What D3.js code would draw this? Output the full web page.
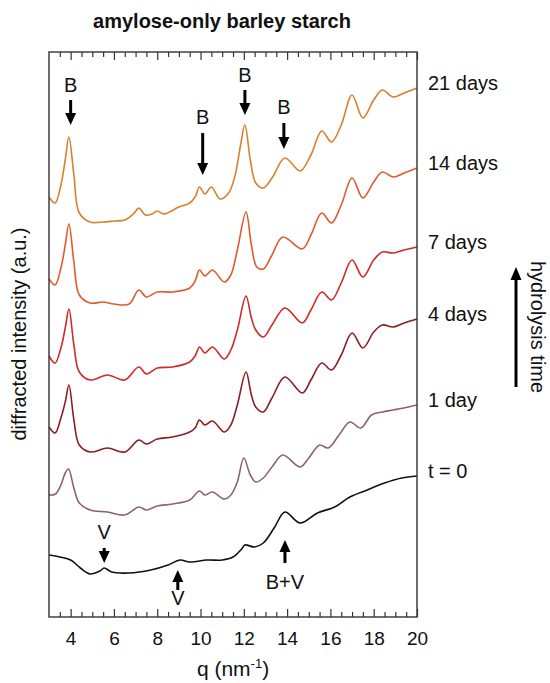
<!DOCTYPE html>
<html>
<head>
<meta charset="utf-8">
<script src="https://cdn.jsdelivr.net/npm/d3@7"></script>
<style>
  body { margin: 0; background: #fff; }
  svg { font-family: "Liberation Sans", Arial, sans-serif; }
</style>
</head>
<body>
<div class="container"></div>
<script>
// diffraction traces, [q (nm^-1), intensity (a.u., stacked)]
var day21 = [[3.0,420],[3.28,414],[3.55,432],[3.75,457],[3.92,480],[4.15,442],[4.4,404],[4.9,395],[5.5,395],[6.0,396],[6.5,397],[6.9,403],[7.15,409],[7.45,402],[7.75,403],[8.0,406],[8.3,403],[9.0,410],[9.5,414],[9.75,420],[9.95,430],[10.2,423],[10.5,430],[10.9,418],[11.3,424],[11.6,442],[11.85,472],[12.05,492],[12.3,457],[12.55,434],[12.9,429],[13.3,439],[13.9,459],[14.6,446],[15.1,462],[15.6,486],[16.05,475],[16.5,492],[17.0,522],[17.5,499],[18.0,517],[18.4,527],[18.9,520],[19.4,524],[20.0,529]];
var day14 = [[3.0,338],[3.28,332],[3.55,349],[3.75,372],[3.92,393],[4.15,355],[4.4,322],[4.9,314],[5.5,315],[6.0,313],[6.7,313],[7.15,327],[7.5,320],[8.0,325],[8.7,325],[9.5,329],[9.75,336],[9.95,347],[10.2,341],[10.55,347],[11.1,335],[11.4,342],[11.7,367],[12.1,405],[12.35,372],[12.6,350],[12.9,348],[13.3,362],[13.8,380],[14.7,368],[15.1,382],[15.6,404],[16.05,394],[16.5,412],[17.0,439],[17.5,419],[18.0,435],[18.4,445],[18.9,440],[19.4,444],[20.0,449]];
var day7 = [[3.0,261],[3.28,254],[3.55,269],[3.75,289],[3.92,308],[4.15,272],[4.4,245],[4.9,237],[5.7,242],[6.5,237],[7.15,250],[7.5,243],[8.0,249],[8.7,250],[9.5,255],[9.75,261],[9.95,270],[10.2,264],[10.55,270],[11.1,258],[11.4,267],[11.7,287],[12.1,321],[12.35,299],[12.55,287],[12.9,280],[13.3,292],[13.9,309],[14.7,294],[15.1,307],[15.6,325],[16.05,317],[16.5,334],[17.0,357],[17.5,340],[18.0,357],[18.4,365],[18.9,364],[19.4,367],[20.0,370]];
var day4 = [[3.0,190],[3.28,184],[3.55,199],[3.75,215],[3.92,232],[4.15,197],[4.4,172],[4.9,165],[5.7,169],[6.5,165],[7.15,177],[7.5,173],[8.0,178],[8.7,180],[9.5,185],[9.75,189],[9.95,197],[10.2,192],[10.55,196],[11.1,185],[11.4,192],[11.7,212],[12.1,245],[12.35,222],[12.55,210],[12.9,205],[13.3,219],[13.9,240],[14.7,224],[15.1,237],[15.6,254],[16.05,247],[16.5,262],[17.0,284],[17.5,269],[18.0,285],[18.4,292],[18.9,290],[19.4,294],[20.0,298]];
var day1 = [[3.0,122],[3.3,123],[3.55,132],[3.75,144],[3.9,148],[4.15,129],[4.4,114],[4.9,107],[5.7,105],[6.5,102],[7.15,110],[7.5,107],[8.0,111],[8.7,113],[9.5,117],[9.95,126],[10.2,122],[10.55,125],[11.1,118],[11.4,122],[11.7,135],[12.0,159],[12.3,142],[12.55,135],[12.9,139],[13.3,150],[13.8,162],[14.6,150],[15.0,159],[15.5,172],[15.9,169],[16.4,182],[16.9,195],[17.4,189],[17.9,202],[18.4,205],[18.9,207],[19.4,209],[20.0,212]];
var day0 = [[3.0,62],[3.5,60],[4.0,57],[4.45,49],[4.9,43],[5.35,46],[5.55,49],[5.9,45],[6.7,44],[7.7,47],[8.5,52],[9.05,57],[9.5,55],[10.3,57],[11.0,57],[11.5,60],[11.9,68],[12.05,72],[12.5,70],[12.9,74],[13.4,89],[13.9,105],[14.6,94],[15.4,104],[16.2,110],[16.9,120],[17.7,127],[18.5,134],[19.3,139],[20.0,141]];

var traces = [day21, day14, day7, day4, day1, day0];
var traceLabels = ["21 days", "14 days", "7 days", "4 days", "1 day", "t = 0"];
var traceColors = ["#d8812c", "#e05a2b", "#d02a24", "#8e1c20", "#8c6565", "#111111"];

var majorTicks = [4, 6, 8, 10, 12, 14, 16, 18, 20];
var minorTicks = d3.range(3.5, 20, 0.5).filter(function (v) { return v % 2 != 0; });

// peak markers: label, q, text baseline, arrow tail, arrow tip (a.u.)
var markLabels = ["B", "B", "B", "B", "V", "V", "B+V"];
var markQ = [4.0, 10.1, 12.05, 13.85, 5.55, 8.95, 13.9];
var markText = [525, 493, 535, 503, 78, 12, 28];
var markTail = [517, 484, 527, 494, 69, 27, 54];
var markTip = [492, 442, 502, 468, 54, 47, 77];

var width = 550, height = 683;
var plotL = 49, plotR = 417, plotT = 52, plotB = 617;

var svg = d3.select(".container").append("svg")
    .attr("width", width)
    .attr("height", height);

svg.append("rect").attr("width", width).attr("height", height).attr("fill", "#fff");

var x = d3.scaleLinear().domain([3, 20]).range([plotL, plotR]);
var y = d3.scaleLinear().domain([0, 565]).range([plotB, plotT]);

var line = d3.line()
    .x(function (d) { return x(d[0]); })
    .y(function (d) { return y(d[1]); })
    .curve(d3.curveCatmullRom.alpha(0.5));

svg.append("g")
    .selectAll("path")
    .data(traces)
    .enter()
    .append("path")
    .attr("d", line)
    .attr("fill", "none")
    .attr("stroke", function (d, i) { return traceColors[i]; })
    .attr("stroke-width", 1.6)
    .attr("stroke-linejoin", "round");

// axes, ticks pointing inwards
function styleAxis(g) {
    g.select(".domain").remove();
    g.selectAll("line").attr("stroke", "#333").attr("stroke-width", 1.2);
}

svg.append("g")
    .attr("transform", "translate(0," + plotB + ")")
    .call(d3.axisBottom(x).tickValues(majorTicks).tickSizeInner(-8).tickSizeOuter(0).tickPadding(15))
    .call(styleAxis)
    .selectAll("text")
    .attr("font-size", 19)
    .attr("font-family", "Liberation Sans, Arial, sans-serif")
    .attr("fill", "#111");

svg.append("g")
    .attr("transform", "translate(0," + plotB + ")")
    .call(d3.axisBottom(x).tickValues(minorTicks).tickSizeInner(-5).tickSizeOuter(0).tickFormat(""))
    .call(styleAxis);

svg.append("g")
    .attr("transform", "translate(0," + plotT + ")")
    .call(d3.axisTop(x).tickValues(majorTicks).tickSizeInner(-8).tickSizeOuter(0).tickFormat(""))
    .call(styleAxis);

svg.append("g")
    .attr("transform", "translate(0," + plotT + ")")
    .call(d3.axisTop(x).tickValues(minorTicks).tickSizeInner(-5).tickSizeOuter(0).tickFormat(""))
    .call(styleAxis);

svg.append("rect")
    .attr("x", plotL)
    .attr("y", plotT)
    .attr("width", plotR - plotL)
    .attr("height", plotB - plotT)
    .attr("fill", "none")
    .attr("stroke", "#333")
    .attr("stroke-width", 1.4);

// markers
var marks = svg.append("g")
    .selectAll("g")
    .data(markLabels)
    .enter()
    .append("g");

marks.append("text")
    .attr("x", function (d, i) { return x(markQ[i]); })
    .attr("y", function (d, i) { return y(markText[i]); })
    .attr("text-anchor", "middle")
    .attr("font-size", 20)
    .attr("fill", "#111")
    .text(function (d) { return d; });

marks.append("line")
    .attr("x1", function (d, i) { return x(markQ[i]); })
    .attr("x2", function (d, i) { return x(markQ[i]); })
    .attr("y1", function (d, i) { return y(markTail[i]); })
    .attr("y2", function (d, i) {
        var dir = markTip[i] < markTail[i] ? -1 : 1;
        return y(markTip[i]) + dir * 10;
    })
    .attr("stroke", "#000")
    .attr("stroke-width", 3);

marks.append("path")
    .attr("d", function (d, i) {
        var cx = x(markQ[i]);
        var ty = y(markTip[i]);
        var dir = markTip[i] < markTail[i] ? -1 : 1;
        return "M" + cx + "," + ty + "L" + (cx - 5.5) + "," + (ty + dir * 12) +
            "L" + (cx + 5.5) + "," + (ty + dir * 12) + "Z";
    })
    .attr("fill", "#000");

// trace labels on the right
svg.append("g")
    .selectAll("text")
    .data(traceLabels)
    .enter()
    .append("text")
    .attr("x", plotR + 11)
    .attr("y", function (d, i) { return y(traces[i][traces[i].length - 1][1]) - 5; })
    .attr("dominant-baseline", "central")
    .attr("font-size", 20)
    .attr("fill", "#111")
    .text(function (d) { return d; });

// hydrolysis time arrow
svg.append("line")
    .attr("x1", 516).attr("x2", 516)
    .attr("y1", 387).attr("y2", 278)
    .attr("stroke", "#000")
    .attr("stroke-width", 3);
svg.append("path")
    .attr("d", "M516,267L510.5,280L521.5,280Z")
    .attr("fill", "#000");

svg.append("text")
    .attr("transform", "translate(531,327) rotate(90)")
    .attr("text-anchor", "middle")
    .attr("font-size", 20)
    .attr("fill", "#111")
    .text("hydrolysis time");

// titles
svg.append("text")
    .attr("x", 222)
    .attr("y", 28)
    .attr("text-anchor", "middle")
    .attr("font-size", 20)
    .attr("font-weight", "bold")
    .attr("fill", "#111")
    .text("amylose-only barley starch");

svg.append("text")
    .attr("transform", "translate(26,334) rotate(-90)")
    .attr("text-anchor", "middle")
    .attr("font-size", 20)
    .attr("fill", "#111")
    .text("diffracted intensity (a.u.)");

var xl = svg.append("text")
    .attr("x", 233)
    .attr("y", 676)
    .attr("text-anchor", "middle")
    .attr("font-size", 21)
    .attr("fill", "#111");
xl.append("tspan").text("q (nm");
xl.append("tspan").attr("dy", -8).attr("font-size", 13).text("-1");
xl.append("tspan").attr("dy", 8).text(")");
</script>
</body>
</html>
